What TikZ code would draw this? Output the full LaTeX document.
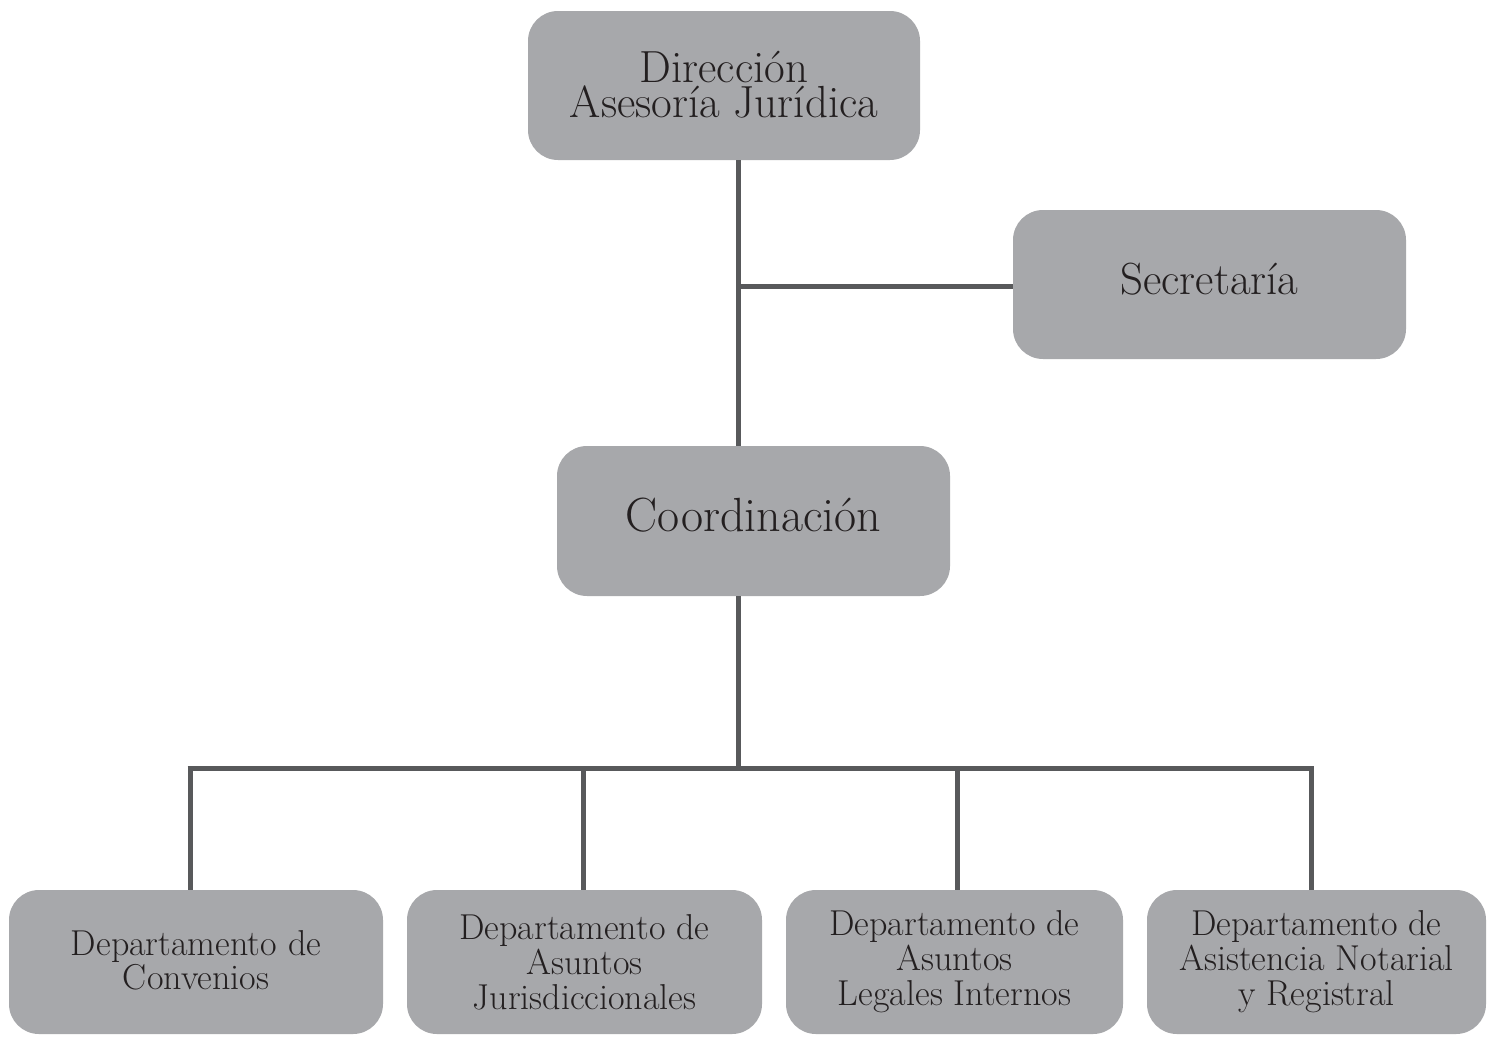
\documentclass[tikz,border=0pt]{standalone}
\usepackage{fontspec}
\definecolor{boxgray}{HTML}{A7A8AB}
\definecolor{linegray}{HTML}{58595B}
\definecolor{textdark}{HTML}{231F20}
\begin{document}
\begin{tikzpicture}[x=1pt,y=-1pt,
  orgbox/.style={fill=boxgray, draw=none, rounded corners=30pt, text=textdark, align=center, inner sep=0pt},
  bigtext/.style={font=\fontsize{45}{35}\selectfont},
  smalltext/.style={font=\fontsize{36}{35}\selectfont},
  conn/.style={draw=linegray, line width=5pt}]
\useasboundingbox (0,0) rectangle (1495,1036);
% boxes
\node[orgbox, bigtext, minimum width=392pt, minimum height=149pt] (dir) at (724,85.5) {\raisebox{3pt}{\shortstack{Dirección\\Asesoría Jurídica}}};
\node[orgbox, bigtext, minimum width=393pt, minimum height=149pt] (sec) at (1209.5,284.5) {\raisebox{12pt}{Secretaría}};
\node[orgbox, font=\fontsize{48}{35}\selectfont, minimum width=393pt, minimum height=150pt] (coord) at (753.5,521) {\raisebox{13pt}{Coordinación}};
\node[orgbox, smalltext, minimum width=374pt, minimum height=144pt] (d1) at (196,962) {\raisebox{4pt}{\shortstack{Departamento de\\[-1pt]Convenios}}};
\node[orgbox, smalltext, minimum width=355pt, minimum height=144pt] (d2) at (584.5,962) {Departamento de\\Asuntos\\Jurisdiccionales};
\node[orgbox, smalltext, minimum width=337pt, minimum height=144pt] (d3) at (954.5,962) {Departamento de\\Asuntos\\Legales Internos};
\node[orgbox, smalltext, minimum width=339pt, minimum height=144pt] (d4) at (1316.5,962) {Departamento de\\Asistencia Notarial\\y Registral};
% junction coordinates
\coordinate (jsec) at (738,286);
\coordinate (jbus) at (738,768);
\coordinate (b1) at (190,768);
\coordinate (b2) at (583,768);
\coordinate (b3) at (957,768);
\coordinate (b4) at (1311,768);
% connectors
\draw[conn] (jsec |- dir.south) -- (jsec |- coord.north);
\draw[conn] (jsec) -- (jsec -| sec.west);
\draw[conn] (jbus |- coord.south) -- (jbus);
\draw[conn] ([xshift=-2.5pt]b1) -- ([xshift=2.5pt]b4);
\draw[conn] ([yshift=-2.5pt]b1) -- (b1 |- d1.north);
\draw[conn] (b2) -- (b2 |- d2.north);
\draw[conn] (b3) -- (b3 |- d3.north);
\draw[conn] ([yshift=-2.5pt]b4) -- (b4 |- d4.north);
\end{tikzpicture}
\end{document}
